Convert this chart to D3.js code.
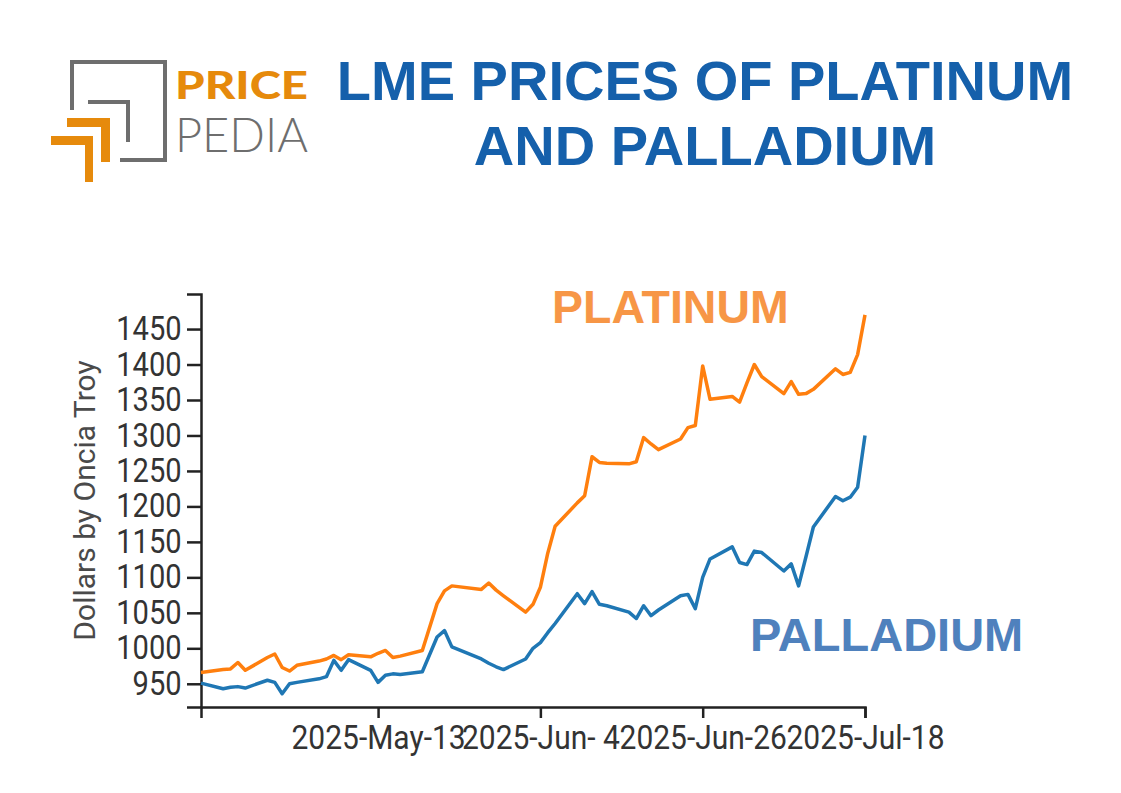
<!DOCTYPE html>
<html>
<head>
<meta charset="utf-8">
<script src="https://cdn.jsdelivr.net/npm/d3@7"></script>
<style>
  body { margin: 0; background: #fff; }
  svg { display: block; }
</style>
</head>
<body>
<svg id="s"></svg>
<script>
// trading days
var dates = [
  "2025-04-19","2025-04-22","2025-04-23","2025-04-24","2025-04-25","2025-04-28","2025-04-29","2025-04-30",
  "2025-05-01","2025-05-02","2025-05-05","2025-05-06","2025-05-07","2025-05-08","2025-05-09","2025-05-12",
  "2025-05-13","2025-05-14","2025-05-15","2025-05-16","2025-05-19","2025-05-21","2025-05-22","2025-05-23",
  "2025-05-27","2025-05-28","2025-05-29","2025-05-30","2025-06-02","2025-06-03","2025-06-04","2025-06-05",
  "2025-06-06","2025-06-09","2025-06-10","2025-06-11","2025-06-12","2025-06-13","2025-06-16","2025-06-17",
  "2025-06-18","2025-06-19","2025-06-20","2025-06-23","2025-06-24","2025-06-25","2025-06-26","2025-06-27",
  "2025-06-30","2025-07-01","2025-07-02","2025-07-03","2025-07-04","2025-07-07","2025-07-08","2025-07-09",
  "2025-07-10","2025-07-11","2025-07-14","2025-07-15","2025-07-16","2025-07-17","2025-07-18"
];

var platinum = [
  966, 970, 971, 980, 969, 987, 992, 973,
  968, 976, 982, 985, 990, 984, 991, 988,
  993, 997, 987, 989, 997, 1063, 1081, 1088,
  1083, 1092, 1082, 1074, 1051, 1062, 1086, 1134,
  1172, 1205, 1215, 1270, 1262, 1261, 1260, 1263,
  1297, 1288, 1280, 1295, 1311, 1314, 1398, 1351,
  1355, 1347, 1374, 1400, 1383, 1359, 1376, 1358,
  1359, 1365, 1394, 1386, 1389, 1414, 1470
];

var palladium = [
  951, 943, 945, 946, 944, 955, 952, 936,
  950, 952, 957, 960, 983, 969, 984, 969,
  952, 962, 964, 963, 967, 1016, 1025, 1002,
  985, 979, 974, 970, 985, 1000, 1008, 1022,
  1035, 1077, 1063, 1080, 1062, 1060, 1051, 1042,
  1060, 1046, 1054, 1074, 1076, 1056, 1100, 1126,
  1143, 1121, 1118, 1137, 1135, 1109, 1119, 1088,
  1129, 1171, 1214, 1208, 1213, 1227, 1300
];

var xTicks = ["2025-05-13","2025-06-04","2025-06-26","2025-07-18"];

var W = 1121, H = 793;
var m = {left: 201, right: 256, top: 294, bottom: 86};

var parse = d3.timeParse("%Y-%m-%d");
var pt = dates.map(function(d, i){ return {date: parse(d), v: platinum[i]}; });
var pd = dates.map(function(d, i){ return {date: parse(d), v: palladium[i]}; });

var svg = d3.select('#s').attr('width', W).attr('height', H);

// ---- logo ----
var logo = svg.append('g');
logo.append('path')
  .attr('d', 'M72,110 V62 H165 V160 H120')
  .attr('fill', 'none').attr('stroke', '#6e6e6e').attr('stroke-width', 4);
logo.append('path')
  .attr('d', 'M88,102 H128 V142')
  .attr('fill', 'none').attr('stroke', '#6e6e6e').attr('stroke-width', 4);
logo.append('path')
  .attr('d', 'M67,118 H110 V162 H101 V127 H67 Z')
  .attr('fill', '#e68a0c');
logo.append('path')
  .attr('d', 'M51,136 H93 V182 H85 V145 H51 Z')
  .attr('fill', '#e68a0c');
logo.append('text')
  .attr('x', 175).attr('y', 99)
  .attr('textLength', 133).attr('lengthAdjust', 'spacingAndGlyphs')
  .style('font-family', 'Lato, sans-serif').style('font-weight', 900)
  .style('font-size', '38px').attr('fill', '#e68a0c')
  .text('PRICE');
logo.append('text')
  .attr('x', 175).attr('y', 152)
  .attr('textLength', 133).attr('lengthAdjust', 'spacingAndGlyphs')
  .style('font-family', 'Lato, sans-serif').style('font-weight', 300)
  .style('font-size', '48px').attr('fill', '#6e6e6e')
  .text('PEDIA');

// ---- title ----
var title = svg.append('text')
  .attr('text-anchor', 'middle')
  .style('font-family', '"Liberation Sans", Arial, sans-serif')
  .style('font-weight', 'bold').style('font-size', '56px')
  .attr('fill', '#1560ab');
title.append('tspan').attr('x', 705).attr('y', 100).text('LME PRICES OF PLATINUM');
title.append('tspan').attr('x', 705).attr('y', 165).text('AND PALLADIUM');

// ---- chart ----
var x = d3.scaleTime()
  .domain(d3.extent(pt, function(d){ return d.date; }))
  .range([m.left, W - m.right]);

var all = platinum.concat(palladium);
var y = d3.scaleLinear()
  .domain([d3.min(all) * 0.98, d3.max(all) * 1.02])
  .range([H - m.bottom, m.top]);

var xAxis = svg.append('g')
  .attr('transform', 'translate(0,' + (H - m.bottom) + ')')
  .call(d3.axisBottom(x)
    .tickValues(xTicks.map(parse))
    .tickFormat(d3.timeFormat('%Y-%b-%e'))
    .tickSize(11).tickSizeOuter(11).tickPadding(6));

var yAxis = svg.append('g')
  .attr('transform', 'translate(' + m.left + ',0)')
  .call(d3.axisLeft(y).tickFormat(d3.format('d')).tickSize(14).tickSizeOuter(14).tickPadding(6));

[xAxis, yAxis].forEach(function(a){
  a.selectAll('path, line').attr('stroke', '#222').attr('stroke-width', 2.5);
  a.selectAll('text')
    .style('font-family', 'Roboto, sans-serif')
    .style('font-size', '30px')
    .attr('fill', '#333');
});
// labels in the original are a little taller than wide
yAxis.selectAll('text').attr('transform', 'scale(0.97,1.1)');
xAxis.selectAll('text').attr('transform', 'scale(1,1.1)');

svg.append('text')
  .attr('transform', 'translate(95,' + ((m.top + H - m.bottom) / 2) + ') rotate(-90)')
  .attr('text-anchor', 'middle')
  .style('font-family', 'Roboto, sans-serif')
  .style('font-size', '30px')
  .attr('fill', '#4a4a4a')
  .text('Dollars by Oncia Troy');

var line = d3.line()
  .x(function(d){ return x(d.date); })
  .y(function(d){ return y(d.v); });

svg.append('path').datum(pt)
  .attr('d', line)
  .attr('fill', 'none').attr('stroke', '#ff7f0e').attr('stroke-width', 3.5)
  .attr('stroke-linejoin', 'round');

svg.append('path').datum(pd)
  .attr('d', line)
  .attr('fill', 'none').attr('stroke', '#1f77b4').attr('stroke-width', 3.5)
  .attr('stroke-linejoin', 'round');

// series labels
svg.append('text')
  .attr('x', 552).attr('y', 323)
  .style('font-family', '"Liberation Sans", Arial, sans-serif')
  .style('font-weight', 'bold').style('font-size', '46.5px')
  .attr('fill', '#f79646')
  .text('PLATINUM');

svg.append('text')
  .attr('x', 750).attr('y', 651)
  .style('font-family', '"Liberation Sans", Arial, sans-serif')
  .style('font-weight', 'bold').style('font-size', '47px')
  .attr('fill', '#4f81bd')
  .text('PALLADIUM');
</script>
</body>
</html>
